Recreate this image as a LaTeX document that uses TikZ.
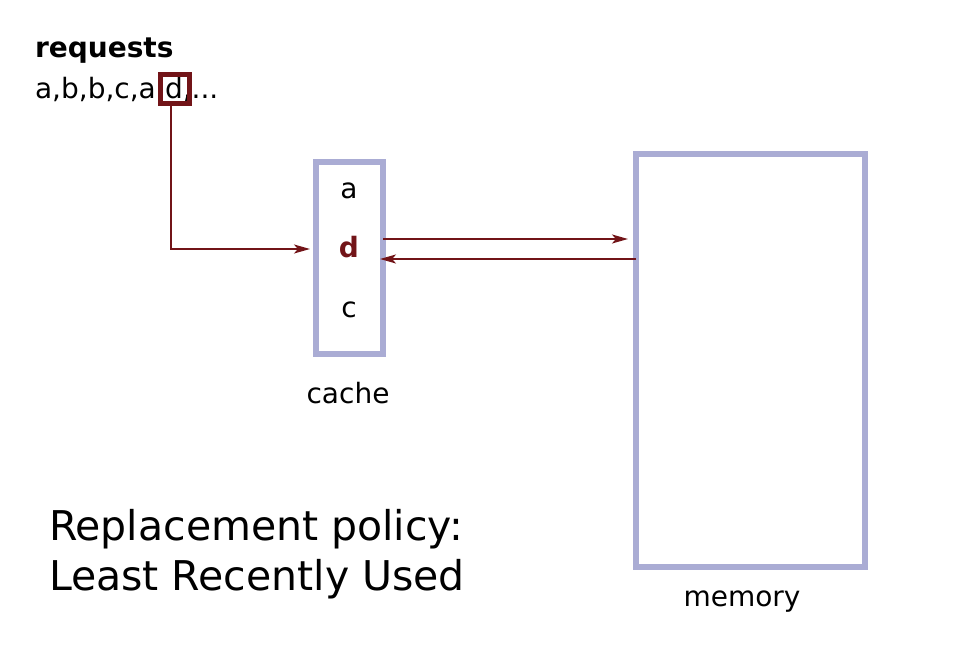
\documentclass[tikz,border=0pt]{standalone}
\usepackage{fontspec}
\setmainfont{DejaVu Sans}
\usetikzlibrary{arrows.meta}
\definecolor{dred}{RGB}{114,20,24}
\definecolor{lav}{RGB}{170,172,212}
\tikzset{
  txt/.style={inner sep=0pt, outer sep=0pt, font=\fontsize{28}{34}\selectfont},
  big/.style={inner sep=0pt, outer sep=0pt, font=\fontsize{41}{50}\selectfont},
  boxl/.style={draw=lav, line width=6pt, inner sep=0pt, outer sep=0pt},
  conn/.style={draw=dred, line width=2pt, -{Stealth[length=16pt,width=9pt,inset=4pt]}},
}
\begin{document}
\begin{tikzpicture}[x=1pt,y=-1pt]
\useasboundingbox (0,0) rectangle (954,648);
% requests
\node[txt, anchor=base west, font=\fontsize{28}{34}\selectfont\bfseries] (req) at (35,57) {requests};
\node[txt, anchor=base west] (seqa) at (35,98) {a,b,b,c,a};
\node[txt, anchor=base west] (seqd) at (165,98) {d};
\node[txt, anchor=base west] (seqe) at (seqd.base east) {,...};
\node[draw=dred, line width=5pt, minimum width=29pt, minimum height=29pt, inner sep=0pt, outer sep=0pt] (dbox) at (174.5,89) {};
% cache
\node[boxl, minimum width=67pt, minimum height=192pt] (cache) at (349.5,258) {};
\node[txt, anchor=base] (ca) at (349,198) {a};
\node[txt, anchor=base, text=dred, font=\fontsize{28}{34}\selectfont\bfseries] (cd) at (349,257) {d};
\node[txt, anchor=base] (cc) at (349,317) {c};
\node[txt, anchor=base] (cachelbl) at (348,403) {cache};
% memory
\node[boxl, minimum width=229pt, minimum height=413pt] (mem) at (750.5,360.5) {};
\node[txt, anchor=base] (memlbl) at (742,606) {memory};
% policy
\node[big, anchor=base west] (pol1) at (49,540) {Replacement policy:};
\node[big, anchor=base west] (pol2) at (49,590) {Least Recently Used};
% connectors
\draw[conn, shorten >=6pt] ([xshift=-3.5pt]dbox.south) |- ([yshift=9pt]cache.west);
\draw[conn, shorten >=8pt] ([yshift=19pt]cache.east) -- ([yshift=19pt]cache.east -| mem.west);
\draw[conn, shorten >=-3pt] ([yshift=-1pt]cache.east -| mem.west) -- ([yshift=-1pt]cache.east);
\end{tikzpicture}
\end{document}
